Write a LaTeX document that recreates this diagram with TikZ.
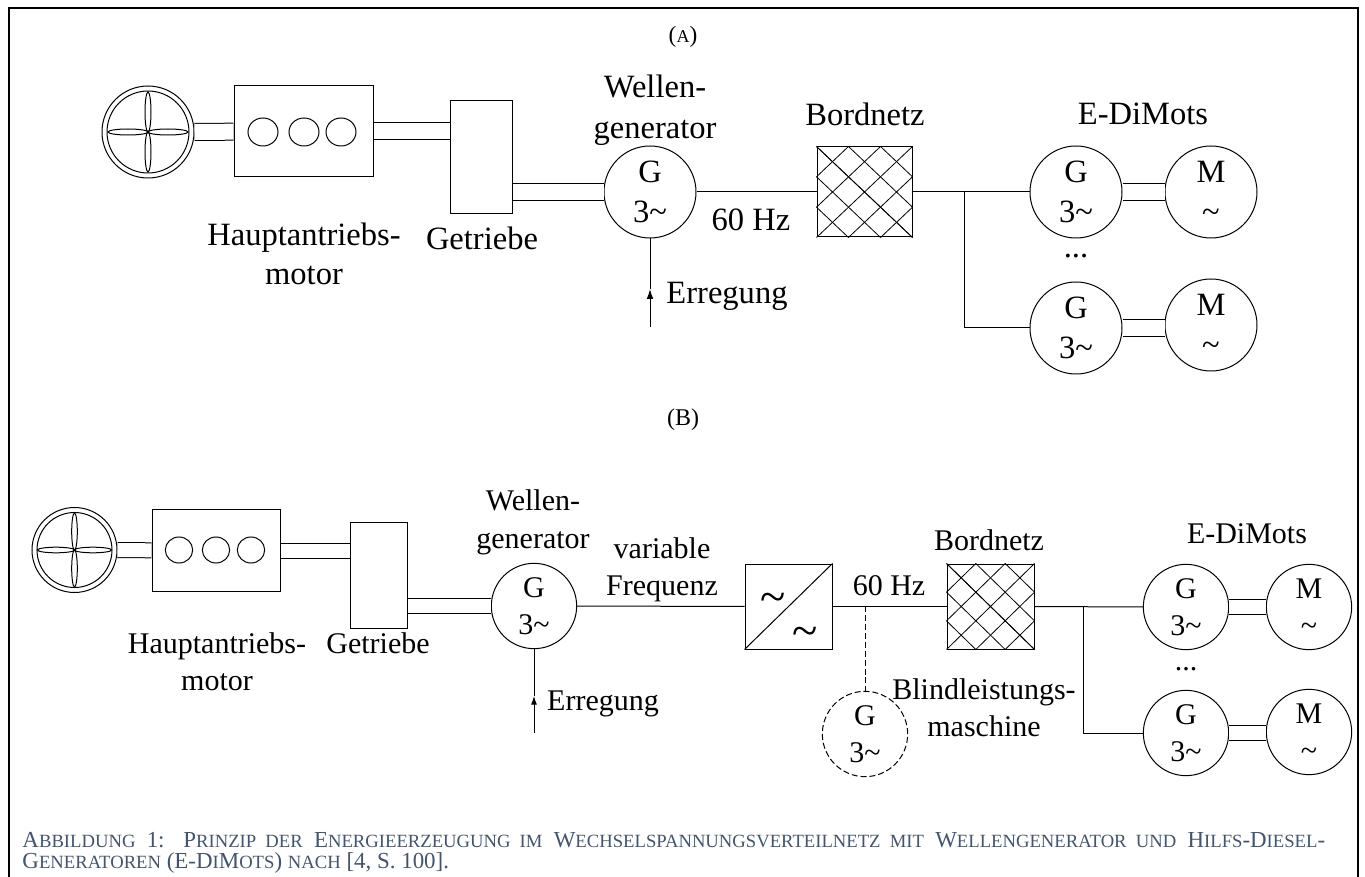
\documentclass[tikz,border=0pt]{standalone}
\usepackage{fontspec}
\setmainfont{Liberation Serif}
\usetikzlibrary{calc,arrows.meta,shapes.geometric}
\definecolor{capblue}{HTML}{44546A}
\newcommand{\kap}[1]{{\fontsize{14}{15.5}\selectfont #1}}
\newcommand{\tld}{\textasciitilde}
\tikzset{
    lnA/.style={font=\fontsize{24.4}{29.5}\selectfont, align=center, inner sep=0pt},
    lnB/.style={font=\fontsize{22.5}{27.5}\selectfont, align=center, inner sep=0pt},
    machA/.style={draw, circle, inner sep=0pt, minimum size=69pt, lnA},
    machB/.style={draw, circle, inner sep=0pt, minimum size=64pt, lnB},
    boxn/.style={draw, rectangle, inner sep=0pt},
    shaftA/.style={double, double distance=12pt},
    shaftB/.style={double, double distance=10.5pt},
    dashln/.style={dash pattern=on 4.5pt off 2.2pt},
    hatch/.style={line width=0.6pt}
}
\begin{document}
\begin{tikzpicture}[x=0.75pt, y=-0.75pt, line width=0.75pt]
\useasboundingbox (0,0) rectangle (1365,877);
\draw[line width=1.7pt] (9,877) -- (9,8) -- (1358,8) -- (1358,877);

% upper scheme
\node[font=\fontsize{17.5}{20}\selectfont, inner sep=0pt] (titleA) at (683,37) {(\fontsize{13.5}{20}\selectfont A\fontsize{17.5}{20}\selectfont)};
\node[draw, circle, inner sep=0pt, minimum size=69pt] (fanA) at (148,132) {};
\node[draw, circle, inner sep=0pt, minimum size=61.5pt] (fanAin) at (148,132) {};
\foreach \a in {0,90,180,270} {\draw[rotate around={\a:(fanA.center)}] ($(fanA.center)+(20,0)$) ellipse [x radius=20, y radius=3];}
\node[boxn, minimum width=104.25pt, minimum height=68.25pt] (motorA) at (303.5,131.5) {};
\foreach \x/\n in {263/1,304/2,341/3} {\node[draw, ellipse, inner sep=0pt, minimum width=22.5pt, minimum height=21pt] (cylA\n) at (\x,132) {};}
\node[boxn, minimum width=46.5pt, minimum height=84.75pt] (gearA) at (481,157.5) {};
\node[machA] (genA) at (650,192) {G\\3\tld};
\node[boxn, minimum width=71.25pt, minimum height=67.5pt] (gridA) at (864.5,192) {};
\node[machA] (g1A) at (1076,192) {G\\3\tld};
\node[machA] (m1A) at (1211,192) {M\\\tld};
\node[machA] (g2A) at (1076,328) {G\\3\tld};
\node[machA] (m2A) at (1211,325) {M\\\tld};

\node[lnA] (lblHauptA) at (304,254) {Hauptantriebs-\\motor};
\node[lnA, anchor=base] (lblGearA) at (482,250) {Getriebe};
\node[lnA] (lblGenA) at (655,110.5) {Wellen-\\[1pt]generator};
\node[lnA, anchor=base] (lblFreqA) at (751,231) {60 Hz};
\node[lnA, anchor=base] (lblGridA) at (865,126) {Bordnetz};
\node[lnA, anchor=base] (lblDiA) at (1143,125) {E-DiMots};
\node[lnA, anchor=base] (lblExcA) at (727,304) {Erregung};
\node[lnA, anchor=base] (dotsA) at (1076,258) {...};

\coordinate (excA) at (650,327);
\coordinate (tipA) at (650,289);
\coordinate (brA) at (964,192);
\draw[shaftA] (fanA) -- (motorA);
\draw[shaftA] (motorA.east) -- (motorA.east -| gearA.west);
\draw[shaftA] (genA.west -| gearA.east) -- (genA.west);
\draw (genA) -- (gridA);
\draw (gridA) -- (g1A);
\draw (brA) |- (g2A);
\draw[shaftA] (g1A) -- (m1A);
\draw[shaftA] (g2A) -- (g2A -| m2A.west);
\draw[-{Latex[length=7.5pt,width=5pt]}] (excA) -- (tipA);
\draw (tipA) -- (genA);

% lower scheme
\node[font=\fontsize{18}{20}\selectfont, inner sep=0pt] (titleB) at (683,420) {(B)};
\node[draw, circle, inner sep=0pt, minimum size=63.75pt] (fanB) at (74.5,550) {};
\node[draw, circle, inner sep=0pt, minimum size=56.25pt] (fanBin) at (74.5,550) {};
\foreach \a in {0,90,180,270} {\draw[rotate around={\a:(fanB.center)}] ($(fanB.center)+(18.5,0)$) ellipse [x radius=18.5, y radius=2.8];}
\node[boxn, minimum width=96pt, minimum height=62pt] (motorB) at (216,550.5) {};
\foreach \x/\n in {179/1,216/2,251/3} {\node[draw, ellipse, inner sep=0pt, minimum width=20.5pt, minimum height=19.5pt] (cylB\n) at (\x,550) {};}
\node[boxn, minimum width=42.75pt, minimum height=79.5pt] (gearB) at (378.5,575) {};
\node[machB] (genB) at (534,606) {G\\3\tld};
\node[boxn, minimum width=65.25pt, minimum height=63.75pt] (convB) at (788.5,606.5) {};
\node[boxn, minimum width=65.25pt, minimum height=63.75pt] (gridB) at (990.5,606.5) {};
\node[machB, dashln] (g3B) at (865,734) {G\\3\tld};
\node[machB] (g1B) at (1186,607) {G\\3\tld};
\node[machB] (m1B) at (1309,607) {M\\\tld};
\node[machB] (g2B) at (1186,733) {G\\3\tld};
\node[machB] (m2B) at (1309,732) {M\\\tld};
\node[font=\fontsize{35}{35}\selectfont, inner sep=0pt] (acB) at (773,603) {\tld};
\node[font=\fontsize{35}{35}\selectfont, inner sep=0pt] (dcB) at (805,637) {\tld};

\node[lnB] (lblHauptB) at (217,662) {Hauptantriebs-\\motor};
\node[lnB, anchor=base] (lblGearB) at (378,653) {Getriebe};
\node[lnB] (lblGenB) at (533,522) {Wellen-\\[1pt]generator};
\node[lnB] (lblVarB) at (662,570) {variable\\Frequenz};
\node[lnB, anchor=base] (lblFreqB) at (889,595) {60 Hz};
\node[lnB, anchor=base] (lblGridB) at (989,551) {Bordnetz};
\node[lnB, anchor=base] (lblDiB) at (1247,543) {E-DiMots};
\node[lnB, anchor=base] (lblExcB) at (603,710) {Erregung};
\node[lnB] (lblBlindB) at (984,708) {Blindleistungs-\\maschine};
\node[lnB, anchor=base] (dotsB) at (1186,670) {...};

\coordinate (excB) at (534,733);
\coordinate (tipB) at (534,696);
\coordinate (brB) at (1083,607);
\coordinate (tapB) at (865,606);
\draw[shaftB] (fanB) -- (motorB);
\draw[shaftB] (motorB.east) -- (motorB.east -| gearB.west);
\draw[shaftB] (genB.west -| gearB.east) -- (genB.west);
\draw (genB) -- (convB);
\draw (convB) -- (gridB);
\draw (convB.south west) -- (convB.north east);
\draw[dashln] (tapB) -- (g3B);
\draw (gridB) -- (g1B);
\draw (brB) |- (g2B);
\draw[shaftB] (g1B) -- (m1B);
\draw[shaftB] (g2B) -- (g2B -| m2B.west);
\draw[-{Latex[length=6.5pt,width=4.5pt]}] (excB) -- (tipB);
\draw (tipB) -- (genB);

% hatching of the two grid boxes
\foreach \nd in {gridA,gridB} {
    \foreach \f in {0,0.333,0.667} {
        \draw[hatch] ($(\nd.north west)!\f!(\nd.north east)$) -- ($(\nd.north east)!1-\f!(\nd.south east)$);
        \draw[hatch] ($(\nd.north west)!\f!(\nd.south west)$) -- ($(\nd.south west)!1-\f!(\nd.south east)$);
    }
    \foreach \f in {0.333,0.667,1} {\draw[hatch] ($(\nd.north west)!\f!(\nd.north east)$) -- ($(\nd.north west)!\f!(\nd.south west)$);}
    \foreach \f in {0.333,0.667} {\draw[hatch] ($(\nd.south west)!\f!(\nd.south east)$) -- ($(\nd.north east)!\f!(\nd.south east)$);}
}

\node[anchor=north west, inner sep=0pt, text width=977pt, align=justify, text=capblue,
    font=\fontsize{17.2}{15.9}\selectfont] (captionfig) at (22,832)
    {A\kap{BBILDUNG} 1: P\kap{RINZIP DER} E\kap{NERGIEERZEUGUNG IM} W\kap{ECHSELSPANNUNGSVERTEILNETZ MIT} W\kap{ELLENGENERATOR UND} H\kap{ILFS}-D\kap{IESEL}-\linebreak
    G\kap{ENERATOREN} (E-D\kap{I}M\kap{OTS}) \kap{NACH} [4, S. 100].};
\end{tikzpicture}
\end{document}
